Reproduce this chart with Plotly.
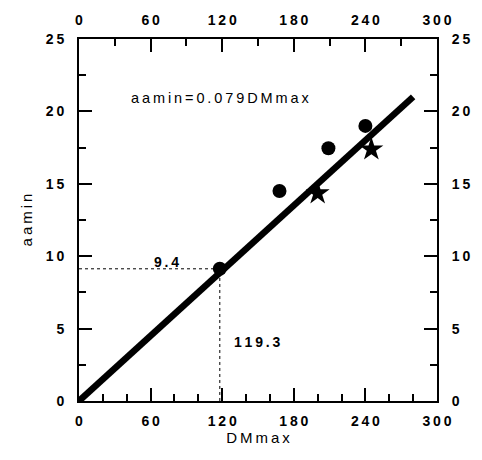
import plotly.graph_objects as go

# data
fit_x = [0, 280]
fit_y = [0, 21.0]
circle_x = [118, 168, 209, 240]
circle_y = [9.13, 14.5, 17.45, 19.0]
star_x = [200, 245]
star_y = [14.35, 17.38]
ref_x = 118
ref_y = 9.13
x_ticks = [0, 60, 120, 180, 240, 300]
y_ticks = [0, 5, 10, 15, 20, 25]

TS = "\u2009"
def sp(s):
    return TS.join(list(s))

def bsp(s):
    return "<b>" + sp(s) + "</b>"

FONT = "Liberation Sans, Arial, sans-serif"

fig = go.Figure()
# reference dotted lines
fig.add_trace(go.Scatter(x=[0, ref_x, ref_x], y=[ref_y, ref_y, 0], mode="lines",
                         line=dict(color="black", width=1, dash="dot"), hoverinfo="skip"))
fig.add_trace(go.Scatter(x=fit_x, y=fit_y, mode="lines",
                         line=dict(color="black", width=6.5)))
fig.add_trace(go.Scatter(x=circle_x, y=circle_y, mode="markers",
                         marker=dict(symbol="circle", size=14, color="black")))
fig.add_trace(go.Scatter(x=star_x, y=star_y, mode="markers",
                         marker=dict(symbol="star", size=18, color="black")))
# invisible trace for top/right axes
fig.add_trace(go.Scatter(x=[0, 300], y=[0, 25], xaxis="x2", yaxis="y2", mode="markers",
                         marker=dict(opacity=0), hoverinfo="skip"))

tickfont = dict(family=FONT, size=14, color="black")
common = dict(showgrid=False, zeroline=False, showline=True, linecolor="black", linewidth=2,
              ticks="inside", ticklen=13, tickwidth=2, tickcolor="black", tickfont=tickfont)

fig.update_layout(
    width=482, height=460,
    margin=dict(l=79, r=41, t=37, b=59),
    plot_bgcolor="white", paper_bgcolor="white",
    showlegend=False,
    xaxis=dict(range=[0, 300], tickvals=x_ticks, ticktext=[bsp(str(v)) for v in x_ticks],
               minor=dict(dtick=20, tick0=0, ticklen=7, tickwidth=1.5, tickcolor="black", ticks="inside"),
               title=dict(text=sp("DMmax"), font=dict(family=FONT, size=15, color="black"), standoff=2),
               **common),
    xaxis2=dict(range=[0, 300], overlaying="x", side="top", tickvals=x_ticks,
                ticktext=[bsp(str(v)) for v in x_ticks],
                minor=dict(dtick=30, tick0=0, ticklen=7, tickwidth=1.5, tickcolor="black", ticks="inside"),
                **common),
    yaxis=dict(range=[0, 25], tickvals=y_ticks, ticktext=[bsp(str(v)) for v in y_ticks],
               minor=dict(dtick=2.5, tick0=0, ticklen=7, tickwidth=1.5, tickcolor="black", ticks="inside"),
               title=dict(text=sp("aamin"), font=dict(family=FONT, size=15, color="black"), standoff=10),
               **common),
    yaxis2=dict(range=[0, 25], overlaying="y", side="right", tickvals=y_ticks,
                ticktext=[bsp(str(v)) for v in y_ticks],
                minor=dict(dtick=2.5, tick0=0, ticklen=7, tickwidth=1.5, tickcolor="black", ticks="inside"),
                **common),
)
fig.update_xaxes(ticklabelstandoff=6)
fig.update_yaxes(ticklabelstandoff=10)

fig.add_annotation(x=42, y=20.95, xanchor="left", yanchor="middle", showarrow=False,
                   text=sp("aamin=0.079DMmax"), font=dict(family=FONT, size=14.5, color="black"))
fig.add_annotation(x=73, y=9.6, xanchor="center", yanchor="middle", showarrow=False,
                   text=bsp("9.4"), font=dict(family=FONT, size=14, color="black"))
fig.add_annotation(x=149, y=4.05, xanchor="center", yanchor="middle", showarrow=False,
                   text=bsp("119.3"), font=dict(family=FONT, size=14, color="black"))

fig.write_html("out.html")
